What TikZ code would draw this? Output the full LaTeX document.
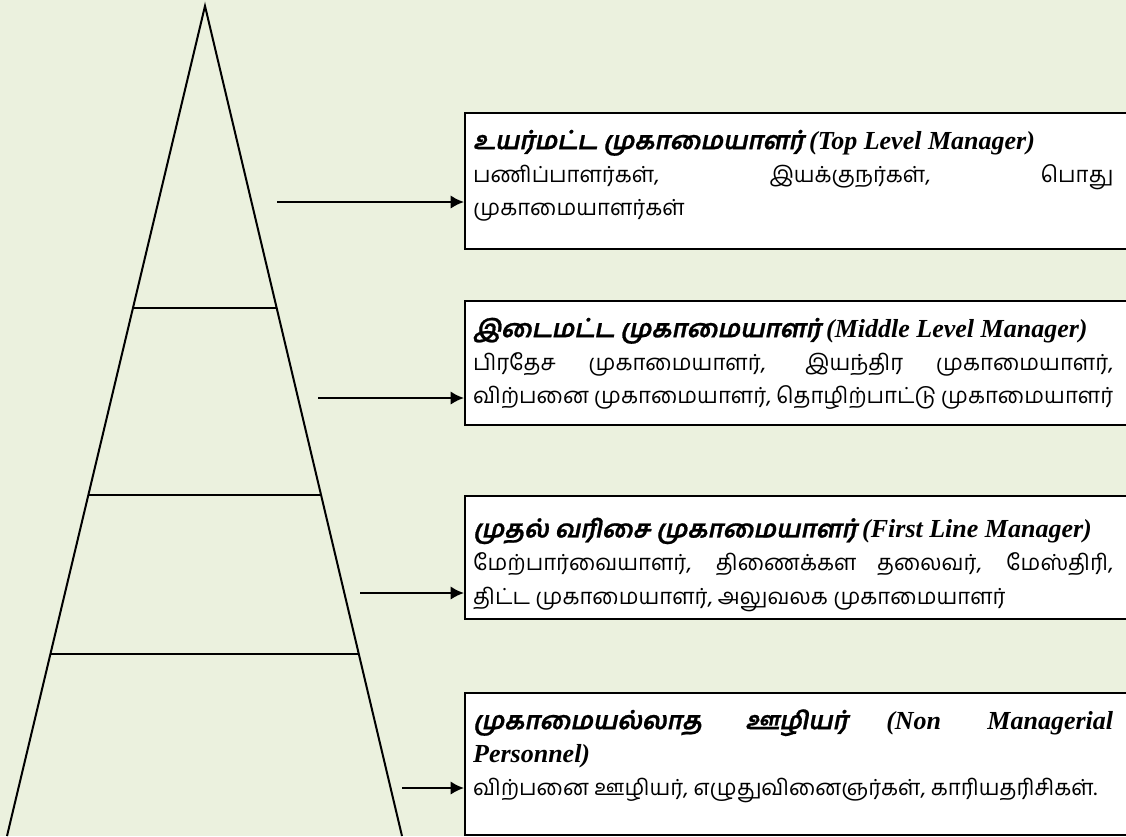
\documentclass[tikz,border=0pt]{standalone}
\usepackage{fontspec}
\setmainfont{Liberation Serif}
\newfontfamily\latinhead{Liberation Serif}
\newfontfamily\tamilfont[Script=Tamil]{Hind Madurai}
\newfontfamily\tamilhead[Script=Tamil,FakeSlant=0.2,FakeBold=1]{Hind Madurai}
\usetikzlibrary{calc,arrows.meta}
\definecolor{paper}{RGB}{235,241,222}

\newcommand\head[2]{{\tamilhead\fontsize{18.5}{25}\selectfont\bfseries #1} {\latinhead\fontsize{19.5}{25}\selectfont\bfseries\itshape #2}}
\newcommand\boxtext[3][27pt]{\hspace*{6pt}\parbox[c][#2][t]{480pt}{\fontsize{16.6}{25}\selectfont\tamilfont\rule{0pt}{#1}#3}\hspace*{26pt}}

\tikzset{
  edge/.style={line width=1.5pt},
  level/.style={draw,fill=white,line width=1.7pt,inner sep=0pt,anchor=north west},
  arr/.style={line width=1.5pt,-{Latex[length=10pt,width=10pt]}}
}

\begin{document}
\begin{tikzpicture}[x=0.75pt,y=-0.75pt]
\fill[paper] (0,0) rectangle (1126,836);
\useasboundingbox (0,0) rectangle (1126,836);
\clip (0,0) rectangle (1126,836);
% pyramid
\coordinate (apex) at (205,6);
\coordinate (bl) at (7,836);
\coordinate (br) at (402,836);
\draw[edge] (bl) -- (apex) -- (br);
\draw[edge] ($(apex)!0.364!(bl)$) -- ($(apex)!0.364!(br)$);
\draw[edge] ($(apex)!0.589!(bl)$) -- ($(apex)!0.589!(br)$);
\draw[edge] ($(apex)!0.781!(bl)$) -- ($(apex)!0.781!(br)$);
% levels
\node[level] (top) at (464,112) {\boxtext{102pt}{\head{உயர்மட்ட முகாமையாளர்}{(Top Level Manager)}\par
பணிப்பாளர்கள், இயக்குநர்கள், பொது\linebreak முகாமையாளர்கள்}};
\node[level] (middle) at (464,300) {\boxtext{93pt}{\head{இடைமட்ட முகாமையாளர்}{(Middle Level Manager)}\par
பிரதேச முகாமையாளர், இயந்திர முகாமையாளர்,\linebreak விற்பனை முகாமையாளர், தொழிற்பாட்டு முகாமையாளர்}};
\node[level] (first) at (464,495) {\boxtext[31pt]{92pt}{\head{முதல் வரிசை முகாமையாளர்}{(First Line Manager)}\par
மேற்பார்வையாளர், திணைக்கள தலைவர், மேஸ்திரி,\linebreak திட்ட முகாமையாளர், அலுவலக முகாமையாளர்}};
\node[level] (staff) at (464,692) {\boxtext{106.5pt}{\head{முகாமையல்லாத ஊழியர்}{(Non Managerial\linebreak Personnel)}\par
விற்பனை ஊழியர், எழுதுவினைஞர்கள், காரியதரிசிகள்.}};
% arrows
\coordinate (s1) at (277,202);
\coordinate (s2) at (318,398);
\coordinate (s3) at (360,593);
\coordinate (s4) at (402,788);
\draw[arr] (s1) -- (s1 -| top.west);
\draw[arr] (s2) -- (s2 -| middle.west);
\draw[arr] (s3) -- (s3 -| first.west);
\draw[arr] (s4) -- (s4 -| staff.west);
\end{tikzpicture}
\end{document}
